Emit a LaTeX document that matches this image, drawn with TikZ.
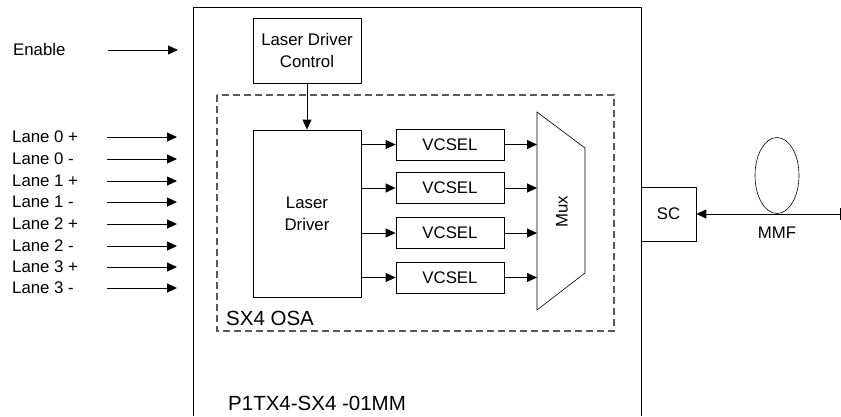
\documentclass[tikz,border=0pt]{standalone}
\usepackage{fontspec}
\setmainfont{Liberation Sans}
\usetikzlibrary{arrows.meta,positioning}
\newcommand{\blockfont}{\fontsize{16.8}{22}\selectfont}
\newcommand{\titlefont}{\fontsize{20.5}{24}\selectfont}
\tikzset{
  blockbox/.style={
    draw,line width=0.8pt,align=center,inner sep=0pt,font=\blockfont
  },
  vcselbox/.style={blockbox,minimum width=108pt,minimum height=31pt},
  sigarrow/.style={-{Triangle[length=10pt,width=9pt]},line width=0.9pt},
  osaline/.style={draw=black!65,line width=1.3pt,dash pattern=on 7pt off 4pt},
  plainlabel/.style={font=\blockfont,inner sep=0pt,anchor=west},
  titlelabel/.style={font=\titlefont,inner sep=0pt,anchor=west}
}

\begin{document}
\begin{tikzpicture}[x=1pt,y=-1pt]
  \useasboundingbox (0,0) rectangle (841,416);
  % module outline, open at the bottom
  \draw[line width=0.8pt] (193,416) |- (641,7) -- (641,416);
  % optical sub-assembly
  \draw[osaline] (217,95) rectangle (614,331);
  \node[titlelabel] (osa) at (226,318) {SX4 OSA};
  \node[titlelabel] (part) at (228,403) {P1TX4-SX4 -01MM};

  \node[blockbox,minimum width=108pt,minimum height=65pt] (ldctrl) at (307,50.5)
    {Laser Driver\\Control};
  \node[blockbox,minimum width=108pt,minimum height=167pt] (ldrv) at (307,213.5)
    {Laser\\Driver};
  \draw[sigarrow] (ldctrl) -- (ldrv);

  % inputs
  \node[plainlabel] (enable) at (13,49) {Enable};
  \coordinate (enablefrom) at (108,50);
  \coordinate (enableto) at (178,50);
  \draw[sigarrow] (enablefrom) -- (enableto);
  \foreach \lane/\y in {0 +/137,0 -/159,1 +/181,1 -/202,2 +/224,2 -/246,3 +/267,3 -/288}{
    \node[plainlabel] (lane\y) at (12,\y) {Lane \lane};
    \coordinate (lanefrom\y) at (107,\y);
    \coordinate (laneto\y) at (177,\y);
    \draw[sigarrow] (lanefrom\y) -- (laneto\y);
  }

  % multiplexer
  \draw[line width=0.6pt] (537,112) -- (585,148) -- (585,273) -- (537,310) -- cycle;
  \node[font=\blockfont,rotate=90] (mux) at (562,212) {Mux};

  % lasers
  \foreach \i/\y in {1/144.5,2/188,3/233,4/277.5}{
    \node[vcselbox] (vcsel\i) at (450,\y) {VCSEL};
    \coordinate (muxin\i) at (537,\y);
    \draw[sigarrow] (ldrv.east |- vcsel\i) -- (vcsel\i.west);
    \draw[sigarrow] (vcsel\i.east) -- (muxin\i);
  }

  % fibre side
  \node[blockbox,minimum width=55pt,minimum height=54pt] (sc) at (668.5,214) {SC};
  \coordinate (fibreend) at (840,214);
  \draw[sigarrow] (fibreend) -- (sc.east);
  \draw[line width=0.9pt] (840,208) -- (840,220);
  \draw[line width=0.6pt] (777,175.5) ellipse [x radius=22,y radius=38];
  \node[font=\blockfont,inner sep=0pt] (mmf) at (777,233) {MMF};
\end{tikzpicture}
\end{document}
